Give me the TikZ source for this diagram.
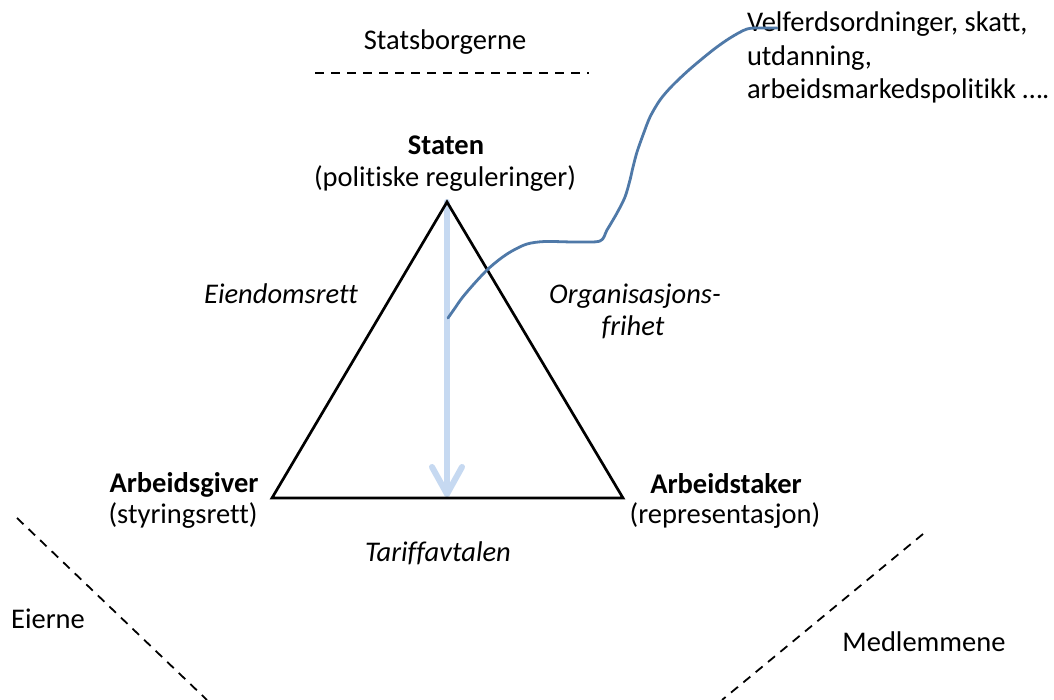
\documentclass[tikz,border=0pt]{standalone}
\usepackage{fontspec}
\setmainfont[Ligatures=NoCommon]{Carlito}
\usetikzlibrary{calc}
\definecolor{lightarrow}{HTML}{C6D9F1}
\definecolor{curveblue}{HTML}{4F79A8}
\begin{document}
\begin{tikzpicture}[x=1pt,y=-1pt,
  every node/.style={inner sep=0pt, outer sep=0pt, font=\fontsize{28.5}{34}\selectfont},
  lbl/.style={anchor=base},
  lblw/.style={anchor=base west},
  bold/.style={font=\fontsize{28.5}{34}\selectfont\bfseries},
  ital/.style={font=\fontsize{28.5}{34}\selectfont\itshape},
  divider/.style={draw=black, line width=1.8pt, dash pattern=on 9pt off 7pt},
  tri/.style={draw=black, line width=2.7pt, line join=miter},
  statearrow/.style={draw=lightarrow, line width=6pt, line cap=round, line join=round},
  policy/.style={draw=curveblue, line width=2.8pt, line cap=round, line join=round}]
\useasboundingbox (0,0) rectangle (1054,700);
\fill[white] (0,0) rectangle (1054,700);

% texts
\node[lbl] (stb) at (445,50) {Statsborgerne};
\node[lbl,bold] (staten) at (446,155) {Staten};
\node[lbl] (statensub) at (445,187) {(politiske reguleringer)};
\node[lbl,bold] (ag) at (184,492) {Arbeidsgiver};
\node[lbl] (agsub) at (183,523) {(styringsrett)};
\node[lbl,bold] (at) at (726,493) {Arbeidstaker};
\node[lbl] (atsub) at (725,523) {(representasjon)};
\node[lbl,ital] (eiend) at (281,304) {Eiendomsrett};
\node[lbl,ital] (org) at (635,304) {Organisasjons-};
\node[lbl,ital] (fri) at (633,335) {frihet};
\node[lbl,ital] (tariff) at (438,561) {Tariffavtalen};
\node[lbl] (eierne) at (48,628) {Eierne};
\node[lbl] (medl) at (924,651) {Medlemmene};
\node[lblw] (velf1) at (747,32) {Velferdsordninger, skatt,};
\node[lblw] (velf2) at (747,65.5) {utdanning,};
\node[lblw] (velf3) at (747,99) {arbeidsmarkedspolitikk ….};

% dividers
\coordinate (sdl) at (315,73);
\coordinate (sdr) at (589,73);
\draw[divider] (sdl) -- (sdr);
\coordinate (ldt) at (17,518);
\coordinate (ldb) at (207,700);
\draw[divider] (ldt) -- (ldb);
\coordinate (rdt) at (923,534);
\coordinate (rdb) at (722,700);
\draw[divider] (rdt) -- (rdb);

% triangle corners
\coordinate (apex) at (447,202);
\coordinate (bl) at (272,498);
\coordinate (br) at (623,498);
\coordinate (basemid) at (447,494);

% state arrow
\draw[statearrow] (apex) -- (basemid);
\draw[statearrow] ($(basemid)+(-15,-27)$) -- (basemid) -- ($(basemid)+(15,-27)$);

% triangle
\draw[tri] (apex) -- (bl) -- (br) -- cycle;

% policy curve
\coordinate (cstart) at (448,318);
\coordinate (cend) at (777,28);
\draw[policy] plot[smooth, tension=0.5] coordinates {(cstart) (455,308) (462,298) (473,285) (487,270) (500,259) (512,251) (527,244) (545,241.5) (575,242) (600,241) (607,230) (617,213) (625,197) (630,180) (633,167) (637,152) (643,135) (650,117) (660,100) (672,86) (690,69) (713,50) (730,38) (747,29) (762,28) (cend)};
\end{tikzpicture}
\end{document}
